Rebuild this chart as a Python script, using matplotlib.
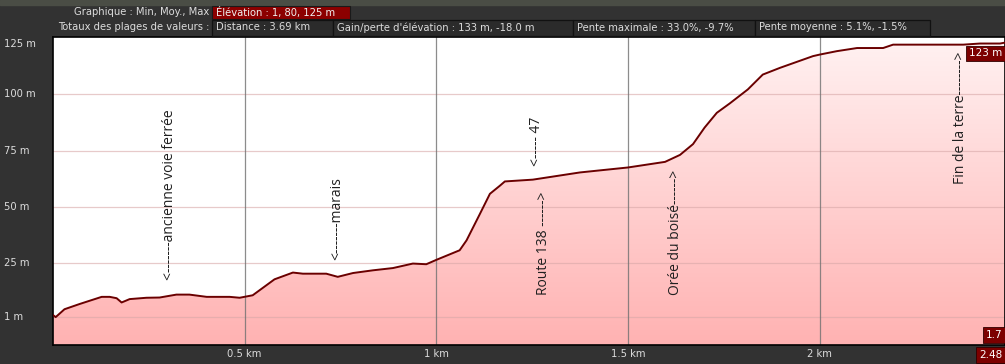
import numpy as np
import matplotlib
matplotlib.use('Agg')
import matplotlib.pyplot as plt
from matplotlib.patches import Rectangle

# profil d'élévation (km, m)
dist = [0.0, 0.007, 0.030, 0.069, 0.127, 0.148, 0.166, 0.179, 0.200, 0.244,
        0.278, 0.322, 0.356, 0.401, 0.461, 0.487, 0.521, 0.578, 0.626, 0.652,
        0.713, 0.743, 0.783, 0.835, 0.887, 0.939, 0.974, 1.001, 1.061, 1.079,
        1.114, 1.140, 1.166, 1.179, 1.252, 1.375, 1.500, 1.597, 1.636, 1.670,
        1.700, 1.732, 1.766, 1.813, 1.852, 1.897, 1.983, 2.001, 2.045, 2.098,
        2.166, 2.192, 2.375, 2.419, 2.471, 2.484]
elev = [1.9, 1.0, 4.5, 6.8, 10.0, 10.0, 9.4, 7.5, 9.0, 9.6,
        9.7, 11.0, 11.0, 10.0, 10.0, 9.6, 10.7, 17.8, 20.8, 20.3,
        20.3, 18.9, 20.6, 21.8, 22.8, 24.8, 24.5, 26.5, 30.7, 35.1,
        46.9, 55.8, 59.4, 61.3, 62.1, 65.3, 67.5, 70.0, 73.1, 77.9,
        85.2, 91.8, 96.0, 102.2, 108.8, 111.8, 117.0, 117.7, 119.2, 120.6,
        120.6, 122.1, 122.1, 122.6, 122.6, 123.0]

y_ticks = [1, 25, 50, 75, 100]
y_labels = ['1 m', '25 m', '50 m', '75 m', '100 m']
x_ticks = [0.5, 1.0, 1.5, 2.0]
x_labels = ['0.5 km', '1 km', '1.5 km', '2 km']

# notes : (texte, km, m en bas du texte)
notes = [('<-------ancienne voie ferrée', 0.304, 17.5),
         ('<-------marais', 0.740, 26.2),
         ('<----- 47', 1.262, 68.3),
         ('Route 138 ------>', 1.281, 10.8),
         ('Orée du boisé------>', 1.623, 10.8),
         ('Fin de la terre-------->', 2.367, 60.3)]

header1 = ('Graphique : Min, Moy., Max', 'Élévation : 1, 80, 125 m')
header2 = ['Distance : 3.69 km', "Gain/perte d'élévation : 133 m, -18.0 m",
           'Pente maximale : 33.0%, -9.7%', 'Pente moyenne : 5.1%, -1.5%']

W, H = 1005, 364
BG = '#323232'
TXT = '#dcdcdc'
DARKRED = '#7c0000'

fig = plt.figure(figsize=(W / 100, H / 100), dpi=100, facecolor=BG)

def fx(x):
    return x / W

def fy(y):
    return 1 - y / H

# bandeau du haut
fig.patches.append(Rectangle((0, fy(5)), 1, 5 / H, transform=fig.transFigure,
                             color='#4a4d45', zorder=0))
fig.text(fx(209), fy(12), header1[0], ha='right', va='center', fontsize=7.2,
         family='DejaVu Sans', color=TXT)
fig.patches.append(Rectangle((fx(212), fy(19)), (350 - 212) / W, 13 / H,
                             transform=fig.transFigure, facecolor='#8c0000',
                             edgecolor='#1a1a1a', lw=0.8))
fig.text(fx(216), fy(12.5), header1[1], ha='left', va='center', fontsize=7.2,
         family='DejaVu Sans', color='#f0f0f0')
fig.text(fx(209), fy(27.5), 'Totaux des plages de valeurs :', ha='right',
         va='center', fontsize=7.2, family='DejaVu Sans', color=TXT)
edges = [212, 333, 573, 755, 930]
for i, t in enumerate(header2):
    fig.patches.append(Rectangle((fx(edges[i]), fy(36)), (edges[i + 1] - edges[i]) / W,
                                 16 / H, transform=fig.transFigure,
                                 facecolor='#2b2b2b', edgecolor='#111111', lw=0.9))
    fig.text(fx(edges[i] + 4), fy(27.5), t, ha='left', va='center', fontsize=7.2,
             family='DejaVu Sans', color=TXT)

# zone du graphique
ax = fig.add_axes([fx(53), fy(345), (W - 53) / W, (345 - 37) / H])
ymin, ymax = -11.4, 125.5
xmax = 2.484
ax.set_xlim(0, xmax)
ax.set_ylim(ymin, ymax)
ax.set_facecolor('white')

grad = np.linspace(0, 1, 256).reshape(-1, 1)
cmap = matplotlib.colors.LinearSegmentedColormap.from_list('rose', ['#ffb2b2', '#fff2f2'])
img = ax.imshow(grad, cmap=cmap, aspect='auto', origin='lower',
                extent=[0, xmax, ymin, ymax], zorder=1)
poly = ax.fill_between(dist, elev, ymin, color='none', lw=0)
img.set_clip_path(poly.get_paths()[0], transform=ax.transData)

for y in y_ticks:
    ax.axhline(y, color='#d8a8a8', alpha=0.6, lw=0.9, zorder=2)
for x in x_ticks:
    ax.axvline(x, color='#707070', alpha=0.8, lw=0.9, zorder=2)

ax.plot(dist, elev, color='#6a0000', lw=1.4, zorder=3)

for s in ax.spines.values():
    s.set_color('black')
    s.set_linewidth(1.2)
ax.set_xticks([])
ax.set_yticks([])

for t, x, y in notes:
    ax.text(x, y, t, rotation=90, ha='center', va='bottom', fontsize=10,
            family='Open Sans', color='#202020', zorder=4)

# étiquettes des axes
for y, lab in zip(y_ticks, y_labels):
    py = ax.transData.transform((0, y))[1]
    fig.text(fx(4), py / H, lab, ha='left', va='center', fontsize=7.2,
             family='DejaVu Sans', color=TXT)
fig.text(fx(4), fy(44), '125 m', ha='left', va='center', fontsize=7.2,
         family='DejaVu Sans', color=TXT)
for x, lab in zip(x_ticks, x_labels):
    px = ax.transData.transform((x, 0))[0]
    fig.text(px / W, fy(354), lab, ha='center', va='center', fontsize=7.2,
             family='DejaVu Sans', color=TXT)

box = dict(boxstyle='square,pad=0.25', facecolor=DARKRED, edgecolor='#300000', lw=0.6)
fig.text(fx(969), fy(53.5), '123 m', ha='left', va='center', fontsize=7.5,
         family='DejaVu Sans', color='white', bbox=box)
fig.text(fx(1002), fy(335), '1.7', ha='right', va='center', fontsize=7.5,
         family='DejaVu Sans', color='white', bbox=box)
fig.text(fx(1002), fy(355), '2.48', ha='right', va='center', fontsize=7.5,
         family='DejaVu Sans', color='white', bbox=box)

fig.savefig('out.png', dpi=100, facecolor=BG)
